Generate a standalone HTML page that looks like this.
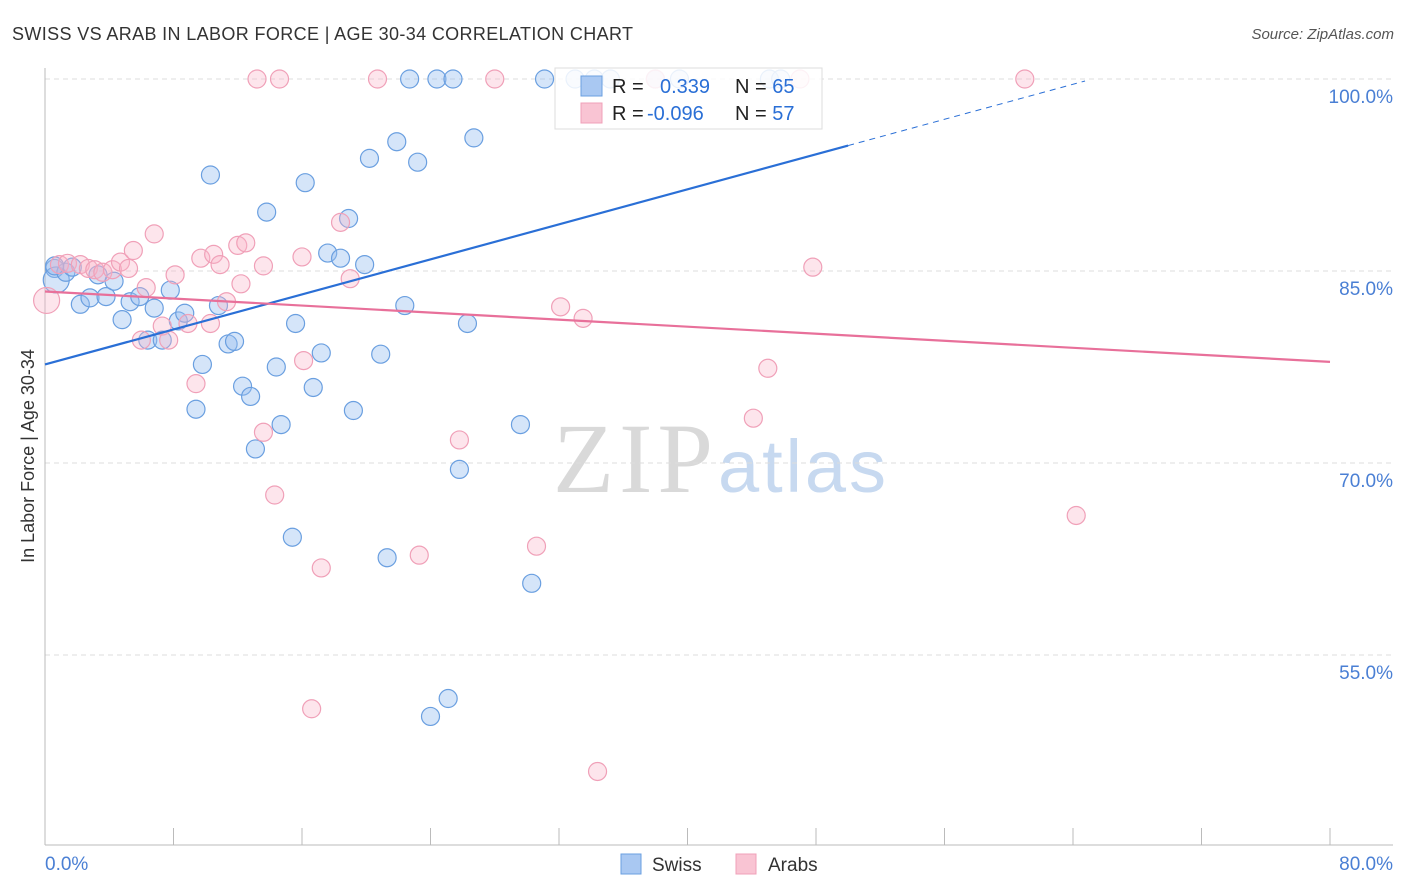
<!DOCTYPE html>
<html><head><meta charset="utf-8"><style>
body{margin:0;background:#fff;font-family:"Liberation Sans",sans-serif}
svg{display:block}
</style></head><body>
<svg id="chart" width="1406" height="892">
<text x="12" y="40" font-size="18" fill="#333" textLength="621">SWISS VS ARAB IN LABOR FORCE | AGE 30-34 CORRELATION CHART</text>
<text x="1394" y="39" font-size="15" fill="#555" font-style="italic" text-anchor="end">Source: ZipAtlas.com</text>
<text x="553" y="492" font-size="100" fill="#d9d9d9" font-family="Liberation Serif,serif" textLength="160">ZIP</text>
<text x="718" y="492" font-size="74" fill="#c7d9f0" textLength="168">atlas</text>
<g id="grid"></g><g id="axes"></g><g id="pts"></g><g id="trend"></g>
<text transform="translate(34,456) rotate(-90)" font-size="18" fill="#333" text-anchor="middle">In Labor Force | Age 30-34</text>
<g>
<rect x="555" y="68" width="267" height="61" fill="#fff" fill-opacity="0.85" stroke="#ddd"/>
<rect x="581" y="76" width="21" height="20" fill="#a9c8f2" stroke="#6a9fe0"/>
<rect x="581" y="103" width="21" height="20" fill="#f9c4d3" stroke="#f0a0b8"/>
<text x="612" y="93" font-size="20" fill="#222">R = <tspan x="660" fill="#2a6fd6">0.339</tspan><tspan x="735" fill="#222">N = </tspan><tspan fill="#2a6fd6">65</tspan></text>
<text x="612" y="120" font-size="20" fill="#222">R = <tspan x="647" fill="#2a6fd6">-0.096</tspan><tspan x="735" fill="#222">N = </tspan><tspan fill="#2a6fd6">57</tspan></text>
</g>
<g><rect x="621" y="854" width="20" height="20" fill="#a9c8f2" stroke="#6a9fe0"/><text x="652" y="871" font-size="19" fill="#333">Swiss</text></g>
<g><rect x="736" y="854" width="20" height="20" fill="#f9c4d3" stroke="#f0a0b8"/><text x="768" y="871" font-size="19" fill="#333">Arabs</text></g>
</svg>
<script>
const yTicks=[100,85,70,55];
const yTickLabels=["100.0%","85.0%","70.0%","55.0%"];
const xTickVals=[0,8,16,24,32,40,48,56,64,72,80];
const swissX=[0.6,0.7,1.3,1.7,2.2,2.8,3.3,3.8,4.3,4.8,5.3,5.9,6.4,6.8,7.3,7.8,8.3,8.7,9.4,9.8,10.3,10.8,11.4,11.8,12.3,12.8,13.1,13.8,14.4,14.7,15.4,15.6,16.2,16.7,17.2,17.6,18.4,18.9,19.2,19.9,20.2,20.9,21.3,21.9,22.4,22.7,23.2,24.0,24.4,25.1,25.4,25.8,26.3,26.7,29.6,30.3,31.1,33.0,34.2,35.2,38.0,39.5,45.1,45.8,0.6];
const swissY=[85.2,84.3,84.9,85.3,82.4,82.9,84.7,83.0,84.2,81.2,82.6,83.0,79.6,82.1,79.6,83.5,81.1,81.7,74.2,77.7,92.5,82.3,79.3,79.5,76.0,75.2,71.1,89.6,77.5,73.0,64.2,80.9,91.9,75.9,78.6,86.4,86.0,89.1,74.1,85.5,93.8,78.5,62.6,95.1,82.3,100,93.5,50.2,100,51.6,100,69.5,80.9,95.4,73.0,60.6,100,100,100,100,100,100,100,100,85.4];
const arabX=[0.1,0.9,1.4,2.2,2.7,3.1,3.6,4.2,4.7,5.2,5.5,6.0,6.3,6.8,7.3,7.7,8.1,8.9,9.4,9.7,10.3,10.5,10.9,11.3,12.0,12.2,12.5,13.2,13.6,13.6,14.3,14.6,16.0,16.1,16.6,17.2,18.4,19.0,20.7,23.3,25.8,28.0,30.6,32.1,33.5,34.4,38.0,44.1,45.0,47.0,47.8,61.0,64.2];
const arabY=[82.7,85.5,85.6,85.5,85.2,85.1,84.9,85.1,85.7,85.2,86.6,79.6,83.7,87.9,80.7,79.6,84.7,80.9,76.2,86.0,80.9,86.3,85.5,82.6,87.0,84.0,87.2,100,72.4,85.4,67.5,100,86.1,78.0,50.8,61.8,88.8,84.4,100,62.8,71.8,100,63.5,82.2,81.3,45.9,100,73.5,77.4,100,85.3,100,65.9];
const swissTrend=[77.7,94.8,50,64.75];
const arabTrend=[83.4,77.9];
const NS='http://www.w3.org/2000/svg';
const X=v=>45+v*(1330-45)/80, Y=v=>79+(100-v)*12.8;
function mk(tag,attrs,parent){const e=document.createElementNS(NS,tag);for(const k in attrs)e.setAttribute(k,attrs[k]);document.getElementById(parent).appendChild(e);return e;}
yTicks.forEach((t,i)=>{
 const l=mk('line',{x1:45,x2:1393,y1:Y(t),y2:Y(t),stroke:'#ddd','stroke-dasharray':'5,4'},'grid');
 
 
 const tx=mk('text',{x:1393,y:Y(t)+24,'font-size':19,fill:'#4a7fd4','text-anchor':'end'},'grid');
 tx.textContent=yTickLabels[i];
 
 
});
let a=mk('line',{x1:45,x2:45,y1:68,y2:845,stroke:'#bbb'},'axes');


a=mk('line',{x1:45,x2:1393,y1:845,y2:845,stroke:'#bbb'},'axes');


xTickVals.forEach(v=>{const t=mk('line',{x1:X(v),x2:X(v),y1:828,y2:845,stroke:'#bbb'},'axes');
 
 });
let xl=mk('text',{x:45,y:870,'font-size':19,fill:'#4a7fd4'},'axes');xl.textContent='0.0%';


xl=mk('text',{x:1393,y:870,'font-size':19,fill:'#4a7fd4','text-anchor':'end'},'axes');xl.textContent='80.0%';


swissX.forEach((v,i)=>{const c=mk('circle',{cx:X(v),cy:Y(swissY[i]),r:(i==1?13:9),fill:'rgba(150,190,240,0.4)',stroke:'#6a9fe0','stroke-width':1.2},'pts');
 
 });
arabX.forEach((v,i)=>{const c=mk('circle',{cx:X(v),cy:Y(arabY[i]),r:(i==0?13:9),fill:'rgba(248,180,200,0.35)',stroke:'#f0a0b8','stroke-width':1.2},'pts');
 
 });
const sl=(swissTrend[1]-swissTrend[0])/swissTrend[2];
let ln=mk('line',{x1:X(0),y1:Y(swissTrend[0]),x2:X(swissTrend[2]),y2:Y(swissTrend[1]),stroke:'#2a6fd6','stroke-width':2.2},'trend');


ln=mk('line',{x1:X(swissTrend[2]),y1:Y(swissTrend[1]),x2:X(swissTrend[3]),y2:Y(swissTrend[0]+sl*swissTrend[3]),stroke:'#2a6fd6','stroke-width':1,'stroke-dasharray':'6,5'},'trend');


ln=mk('line',{x1:X(0),y1:Y(arabTrend[0]),x2:X(80),y2:Y(arabTrend[1]),stroke:'#e8709a','stroke-width':2.2},'trend');


</script>
</body></html>
